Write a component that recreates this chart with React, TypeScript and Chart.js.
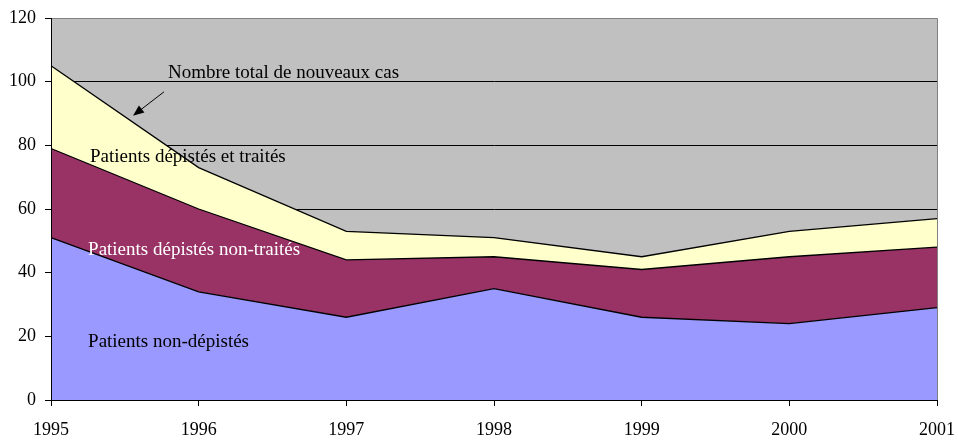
import React, { useEffect, useRef } from "react";
import { Chart, registerables } from "chart.js";

Chart.register(...registerables);

// ---- Data ----
const years = ["1995", "1996", "1997", "1998", "1999", "2000", "2001"];
const nonDepistes = [51, 34, 26, 35, 26, 24, 29];
const depistesNonTraites = [28, 26, 18, 10, 15, 21, 19];
const depistesTraites = [26, 13, 9, 6, 4, 8, 9];

const yMin = 0;
const yMax = 120;
const yStep = 20;

// Annotation labels in data coordinates (x = category index, y = value at baseline)
const labelTexts = [
  "Nombre total de nouveaux cas",
  "Patients dépistés et traités",
  "Patients dépistés non-traités",
  "Patients non-dépistés",
];
const labelX = [0.792, 0.264, 0.251, 0.251];
const labelY = [101.2, 74.9, 45.5, 16.7];
const labelColors = ["#000000", "#000000", "#FFFFFF", "#000000"];

const arrowFrom = [0.765, 96.8];
const arrowTo = [0.555, 89.3];

const FONT = "'Liberation Serif', 'Times New Roman', serif";

const plotPlugin = {
  id: "plotDecor",
  beforeDraw(chart: any) {
    const { ctx, chartArea } = chart;
    ctx.save();
    ctx.fillStyle = "#C0C0C0";
    ctx.fillRect(chartArea.left, chartArea.top, chartArea.right - chartArea.left, chartArea.bottom - chartArea.top);
    ctx.restore();
  },
  afterDatasetsDraw(chart: any) {
    const { ctx, chartArea, scales } = chart;
    const xs = scales.x;
    const ys = scales.y;
    ctx.save();
    // top & right plot border (gray)
    ctx.strokeStyle = "#808080";
    ctx.lineWidth = 1;
    ctx.beginPath();
    ctx.moveTo(chartArea.left, chartArea.top + 0.5);
    ctx.lineTo(chartArea.right + 0.5, chartArea.top + 0.5);
    ctx.lineTo(chartArea.right + 0.5, chartArea.bottom);
    ctx.stroke();

    // annotation texts
    ctx.font = `19px ${FONT}`;
    ctx.textBaseline = "alphabetic";
    ctx.textAlign = "left";
    for (let i = 0; i < labelTexts.length; i++) {
      ctx.fillStyle = labelColors[i];
      ctx.fillText(labelTexts[i], xs.getPixelForValue(labelX[i]), ys.getPixelForValue(labelY[i]));
    }

    // arrow
    const x1 = xs.getPixelForValue(arrowFrom[0]);
    const y1 = ys.getPixelForValue(arrowFrom[1]);
    const x2 = xs.getPixelForValue(arrowTo[0]);
    const y2 = ys.getPixelForValue(arrowTo[1]);
    const ang = Math.atan2(y2 - y1, x2 - x1);
    const headLen = 11;
    const headW = 4.5;
    ctx.strokeStyle = "#000";
    ctx.fillStyle = "#000";
    ctx.lineWidth = 1;
    ctx.beginPath();
    ctx.moveTo(x1, y1);
    ctx.lineTo(x2 - Math.cos(ang) * headLen * 0.8, y2 - Math.sin(ang) * headLen * 0.8);
    ctx.stroke();
    const bx = x2 - Math.cos(ang) * headLen;
    const by = y2 - Math.sin(ang) * headLen;
    ctx.beginPath();
    ctx.moveTo(x2, y2);
    ctx.lineTo(bx + Math.sin(ang) * headW, by - Math.cos(ang) * headW);
    ctx.lineTo(bx - Math.sin(ang) * headW, by + Math.cos(ang) * headW);
    ctx.closePath();
    ctx.fill();
    ctx.restore();
  },
};

export default function App() {
  const ref = useRef<HTMLCanvasElement | null>(null);

  useEffect(() => {
    if (!ref.current) return;
    const chart = new Chart(ref.current, {
      type: "line",
      data: {
        labels: years,
        datasets: [
          {
            label: "Patients non-dépistés",
            data: nonDepistes,
            backgroundColor: "#9999FF",
            borderColor: "#000000",
            borderWidth: 1.3,
            fill: "origin",
            pointRadius: 0,
            tension: 0,
          },
          {
            label: "Patients dépistés non-traités",
            data: depistesNonTraites,
            backgroundColor: "#993366",
            borderColor: "#000000",
            borderWidth: 1.3,
            fill: "-1",
            pointRadius: 0,
            tension: 0,
          },
          {
            label: "Patients dépistés et traités",
            data: depistesTraites,
            backgroundColor: "#FFFFCC",
            borderColor: "#000000",
            borderWidth: 1.3,
            fill: "-1",
            pointRadius: 0,
            tension: 0,
          },
        ],
      },
      options: {
        responsive: false,
        animation: false,
        layout: { padding: { left: 0, right: 21, top: 18, bottom: 0 } },
        plugins: {
          legend: { display: false },
          tooltip: { enabled: false },
        },
        scales: {
          x: {
            type: "category",
            offset: false,
            grid: {
              display: true,
              drawOnChartArea: false,
              drawTicks: true,
              tickLength: 6,
              tickColor: "#000000",
              color: "#000000",
            },
            border: { display: true, color: "#000000", width: 1, z: 1 },
            ticks: {
              color: "#000000",
              font: { family: FONT, size: 18 },
              padding: 13,
              maxRotation: 0,
              autoSkip: false,
            },
            afterFit: (s: any) => {
              s.height = 41;
              s.paddingLeft = 0;
              s.paddingRight = 0;
            },
          },
          y: {
            stacked: true,
            min: yMin,
            max: yMax,
            grid: {
              color: (c: any) => (c.tick && c.tick.value === yMax ? "#808080" : "#000000"),
              tickColor: "#000000",
              tickLength: 6,
              lineWidth: 1,
            },
            border: { display: true, color: "#000000", width: 1, z: 1 },
            ticks: {
              stepSize: yStep,
              color: "#000000",
              font: { family: FONT, size: 18 },
              padding: 9,
            },
            afterFit: (s: any) => {
              s.width = 51;
              s.paddingTop = 0;
              s.paddingBottom = 0;
            },
          },
        },
      },
      plugins: [plotPlugin],
    });
    return () => chart.destroy();
  }, []);

  return (
    <div style={{ position: "fixed", left: 0, top: 0, width: 958, height: 441, background: "#fff" }}>
      <canvas ref={ref} width={958} height={441} style={{ display: "block" }} />
    </div>
  );
}
